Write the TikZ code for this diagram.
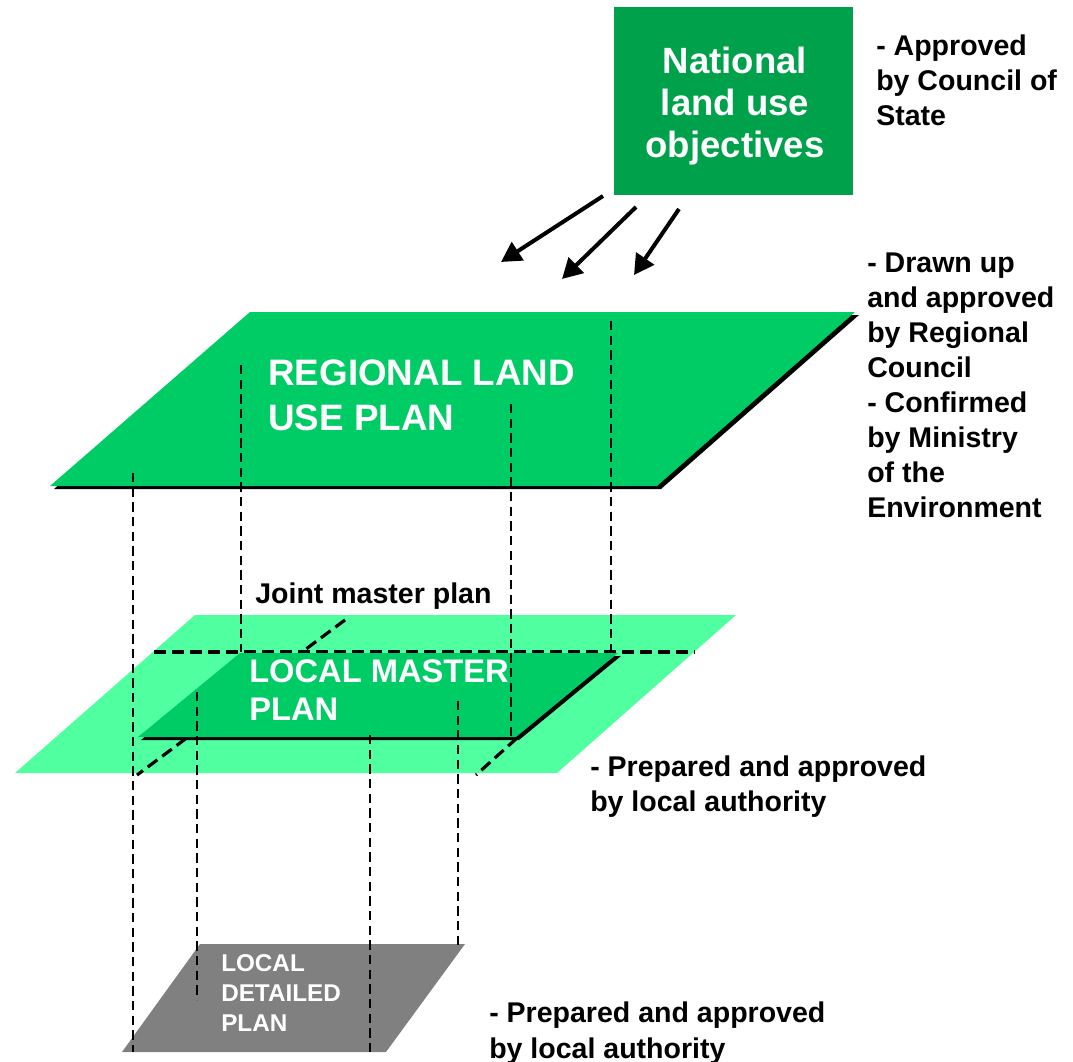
\documentclass[tikz,border=0pt]{standalone}
\usepackage{fontspec}
\setmainfont{Liberation Sans}
\usetikzlibrary{arrows.meta}
\definecolor{natgreen}{RGB}{0,161,75}
\definecolor{reggreen}{RGB}{0,204,102}
\definecolor{lightgreen}{RGB}{80,255,160}
\definecolor{detgrey}{RGB}{128,128,128}
\tikzset{
  bigarrow/.style={line width=3pt,-{Triangle[length=15pt,width=16pt]}},
  vdash/.style={line width=2pt,dash pattern=on 7pt off 4pt},
  jdash/.style={line width=2.4pt,dash pattern=on 9pt off 4.5pt},
  blacktxt/.style={anchor=north west,inner sep=0pt,align=left,text=black,
    font=\bfseries\fontsize{21.4}{26.3}\selectfont},
  whitetxt/.style={inner sep=0pt,text=white},
}
\begin{document}
\begin{tikzpicture}[x=0.75pt,y=-0.75pt]
\useasboundingbox (0,0) rectangle (1073,1062);

% national box
\node[fill=natgreen,minimum width=179.25pt,minimum height=141pt,inner sep=0pt] (nat) at (733.5,101) {};
\node[whitetxt,anchor=north,align=center,font=\bfseries\fontsize{27.4}{31.5}\selectfont] (natt) at (735,39.7)
  {\rule{0pt}{25pt}National\\land use\\objectives};

% arrows
\coordinate (a1s) at (603,196); \coordinate (a1e) at (501,262);
\coordinate (a2s) at (636,207); \coordinate (a2e) at (562,279);
\coordinate (a3s) at (679,209); \coordinate (a3e) at (634,275);
\draw[bigarrow] (a1s) -- (a1e);
\draw[bigarrow] (a2s) -- (a2e);
\draw[bigarrow] (a3s) -- (a3e);

% regional plan
\fill[black] (254,315) -- (859,315) -- (661,489) -- (54,489) -- cycle;
\fill[reggreen] (250,312) -- (855,312) -- (657,486) -- (50,486) -- cycle;

% local layer outer
\fill[lightgreen] (195,615) -- (736,615) -- (557,773) -- (15,773) -- cycle;
% joint master plan dashes (behind inner)
\coordinate (h1) at (154,652); \coordinate (h2) at (695,652);
\coordinate (d1) at (345,620); \coordinate (d2) at (137,775);
\draw[jdash] (h1) -- (h2);
\draw[jdash] (d1) -- (d2);
% inner local master plan
\fill[black] (243,656) -- (621,656) -- (519,740) -- (141,740) -- cycle;
\fill[reggreen] (240,653) -- (618,653) -- (516,737) -- (138,737) -- cycle;
\coordinate (r1) at (517,738); \coordinate (r2) at (476,775);
\draw[jdash] (r1) -- (r2);

% detailed plan
\fill[detgrey] (200,944) -- (465,944) -- (386,1052) -- (122,1052) -- cycle;

% vertical dashed lines
\coordinate (v1a) at (133,473); \coordinate (v1b) at (133,1052);
\coordinate (v2a) at (241,365); \coordinate (v2b) at (241,652);
\coordinate (v3a) at (511,404); \coordinate (v3b) at (511,738);
\coordinate (v4a) at (611,321); \coordinate (v4b) at (611,652);
\coordinate (v5a) at (197,692); \coordinate (v5b) at (197,1000);
\coordinate (v6a) at (370,735); \coordinate (v6b) at (370,1052);
\coordinate (v7a) at (458,701); \coordinate (v7b) at (458,948);
\foreach \n in {1,...,7} {\draw[vdash] (v\n a) -- (v\n b);}

% texts on shapes
\node[whitetxt,anchor=north west,align=left,font=\bfseries\fontsize{27.6}{33.75}\selectfont] (regt) at (268,351.7)
  {\rule{0pt}{25pt}REGIONAL LAND\\USE PLAN};
\node[whitetxt,anchor=north west,align=left,font=\bfseries\fontsize{24.5}{28.5}\selectfont] (loct) at (249,652.7)
  {\rule{0pt}{22pt}LOCAL MASTER\\PLAN};
\node[whitetxt,anchor=north west,align=left,font=\bfseries\fontsize{18.2}{22.5}\selectfont] (dett) at (221,949.7)
  {\rule{0pt}{16pt}LOCAL\\DETAILED\\PLAN};

% side texts
\node[blacktxt] (t1) at (876,28.3) {\rule{0pt}{20pt}- Approved\\by Council of\\State};
\node[blacktxt] (t2) at (867,245.3) {\rule{0pt}{20pt}- Drawn up\\and approved\\by Regional\\Council\\- Confirmed\\by Ministry\\of the\\Environment};
\node[blacktxt] (t3) at (255,576.3) {\rule{0pt}{20pt}Joint master plan};
\node[blacktxt] (t4) at (590,749.3) {\rule{0pt}{20pt}- Prepared and approved\\by local authority};
\node[blacktxt] (t5) at (489,996) {\rule{0pt}{20pt}- Prepared and approved\\by local authority};
\end{tikzpicture}
\end{document}
